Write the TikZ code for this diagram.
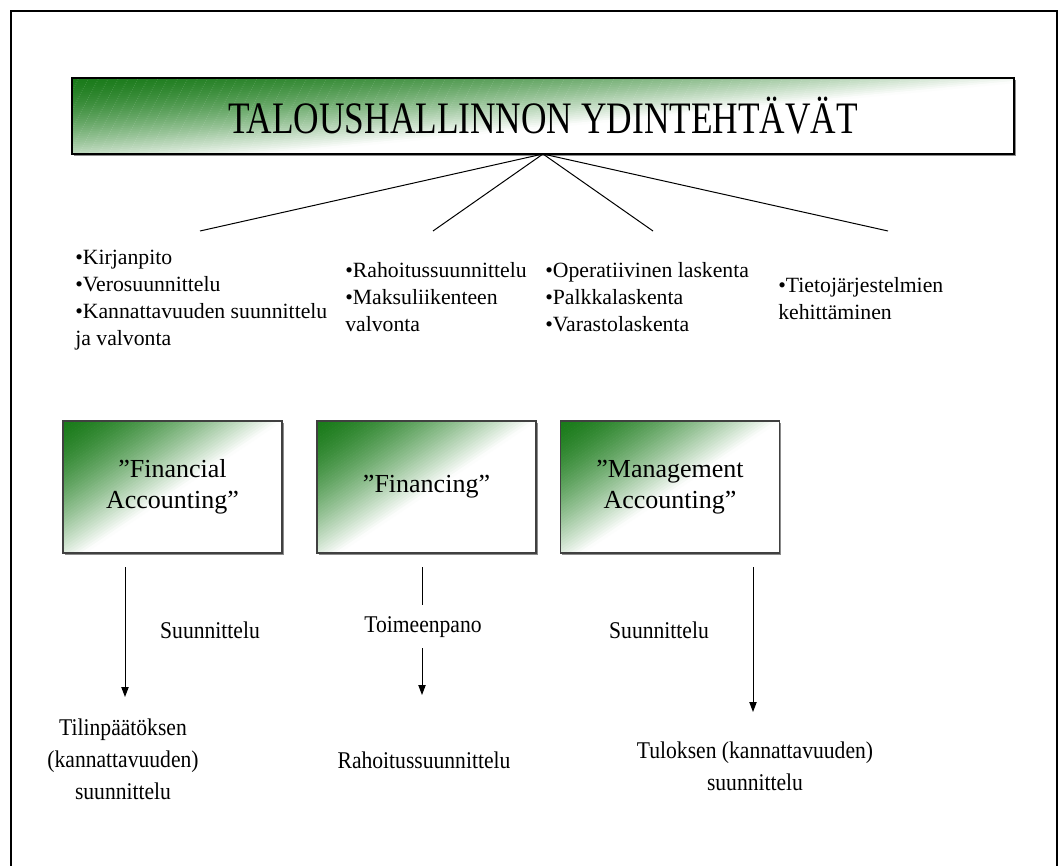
\documentclass[tikz,border=0pt]{standalone}
\usepackage{fontspec}
\setmainfont{Liberation Serif}
\newfontfamily\titlefont[FakeStretch=0.785]{Liberation Serif}
\newfontfamily\labelfont[FakeStretch=0.9]{Liberation Serif}
\usetikzlibrary{arrows.meta}

\pgfdeclarelayer{background}
\pgfsetlayers{background,main}

\tikzset{
  titlebox/.style={draw=black, line width=1pt, inner sep=0pt, outer sep=0pt,
    minimum width=706.5pt, minimum height=57pt,
    font=\titlefont\fontsize{33.75pt}{40pt}\selectfont},
  areabox/.style={draw=black!75, line width=0.8pt, inner sep=0pt, outer sep=0pt,
    align=center, minimum width=164.25pt, minimum height=99pt,
    font=\fontsize{19.5pt}{23.25pt}\selectfont},
  boxshadow/.style={fill=black!45},
  tasklist/.style={anchor=north west, inner sep=0pt, align=left,
    font=\fontsize{16.3pt}{20.25pt}\selectfont},
  phase/.style={inner sep=0pt, align=center, font=\labelfont\fontsize{18pt}{24pt}\selectfont},
  branch/.style={line width=0.75pt},
  flow/.style={line width=0.75pt, -{Triangle[length=7.5pt,width=5.5pt]}},
}

% Shadow and green corner gradient under a box node.
% #1 node, #2,#3 upper left corner, #4 width, #5 height (all in px),
% #6,#7 weights a,b of the gradient value t = a*u + b*v (u,v from the
% upper left corner, 0..1); the colour goes from green to white with t^1.5.
\newcommand\boxbackdrop[7]{%
  \begin{pgfonlayer}{background}
    \fill[boxshadow] ([shift={(1.6,1.6)}]#1.south west) rectangle ([shift={(1.6,1.6)}]#1.north east);
    \begin{scope}
      \clip (#2,#3) rectangle ++(#4,#5);
      \fill[white] (#2,#3) rectangle ++(#4,#5);
      \foreach \k in {0,...,49}{%
        \pgfmathsetmacro\bandlo{ifthenelse(\k==0,-1,\k/50)}%
        \pgfmathsetmacro\bandhi{(\k+1)/50+0.004}%
        \pgfmathsetmacro\bandmix{((\k+0.5)/50)^1.5}%
        \pgfmathsetmacro\bandr{0.1+0.9*\bandmix}%
        \pgfmathsetmacro\bandg{0.48+0.52*\bandmix}%
        \definecolor{bandcol}{rgb}{\bandr,\bandg,\bandr}%
        \fill[bandcol] ({#2+#4*(\bandlo+0.1*#7)/#6},{#3-0.1*#5})
          -- ({#2+#4*(\bandhi+0.1*#7)/#6},{#3-0.1*#5})
          -- ({#2+#4*(\bandhi-1.1*#7)/#6},{#3+1.1*#5})
          -- ({#2+#4*(\bandlo-1.1*#7)/#6},{#3+1.1*#5}) -- cycle;
      }
    \end{scope}
  \end{pgfonlayer}}

\begin{document}
\begin{tikzpicture}[x=0.75pt, y=-0.75pt]
\useasboundingbox (0,0) rectangle (1059,866);

% outer frame
\draw[line width=1.3pt] (11,11) rectangle (1057,900);

% heading
\node[titlebox] (title) at (543,116) {TALOUSHALLINNON YDINTEHTÄVÄT};
\boxbackdrop{title}{72}{78}{942}{76}{0.95}{0.8}

% branches to the task lists
\coordinate (b1) at (200,231);
\coordinate (b2) at (433,231);
\coordinate (b3) at (653,231);
\coordinate (b4) at (888,231);
\foreach \b in {b1,b2,b3,b4}
  \draw[branch] (title.south) -- (\b);

% task lists
\node[tasklist] (tasks1) at (75,250)
  {•Kirjanpito\\•Verosuunnittelu\\•Kannattavuuden suunnittelu\\ja valvonta};
\node[tasklist] (tasks2) at (345,262)
  {•Rahoitussuunnittelu\\•Maksuliikenteen\\valvonta};
\node[tasklist] (tasks3) at (545,262)
  {•Operatiivinen laskenta\\•Palkkalaskenta\\•Varastolaskenta};
\node[tasklist] (tasks4) at (778,277)
  {•Tietojärjestelmien\\kehittäminen};

% functional areas
\node[areabox] (fin)  at (172.5,487) {”Financial\\Accounting”};
\node[areabox] (fing) at (426.5,487) {”Financing”};
\node[areabox] (mgmt) at (670,487)   {”Management\\Accounting”};
\boxbackdrop{fin}{63}{421}{219}{132}{1.0}{0.9}
\boxbackdrop{fing}{317}{421}{219}{132}{1.0}{0.9}
\boxbackdrop{mgmt}{560.5}{421}{219}{132}{1.0}{0.9}

% phase labels
\node[phase] (plan1) at (210,630) {Suunnittelu};
\node[phase] (exec)  at (423,627) {Toimeenpano};
\node[phase] (plan3) at (659,630) {Suunnittelu};

% outcomes
\node[phase] (out1) at (123,759)
  {Tilinpäätöksen\\(kannattavuuden)\\suunnittelu};
\node[phase] (out2) at (424,760) {Rahoitussuunnittelu};
\node[phase] (out3) at (755,766) {Tuloksen (kannattavuuden)\\suunnittelu};

% flow arrows
\coordinate (a1s) at (125,567);
\coordinate (a1e) at (125,697);
\draw[flow] (a1s) -- (a1e);

\coordinate (a2s) at (422,567);
\coordinate (a2m) at (422,605);
\coordinate (a2r) at (422,648);
\coordinate (a2e) at (422,695);
\draw[branch] (a2s) -- (a2m);
\draw[flow] (a2r) -- (a2e);

\coordinate (a3s) at (753,567);
\coordinate (a3e) at (753,712);
\draw[flow] (a3s) -- (a3e);
\end{tikzpicture}
\end{document}
